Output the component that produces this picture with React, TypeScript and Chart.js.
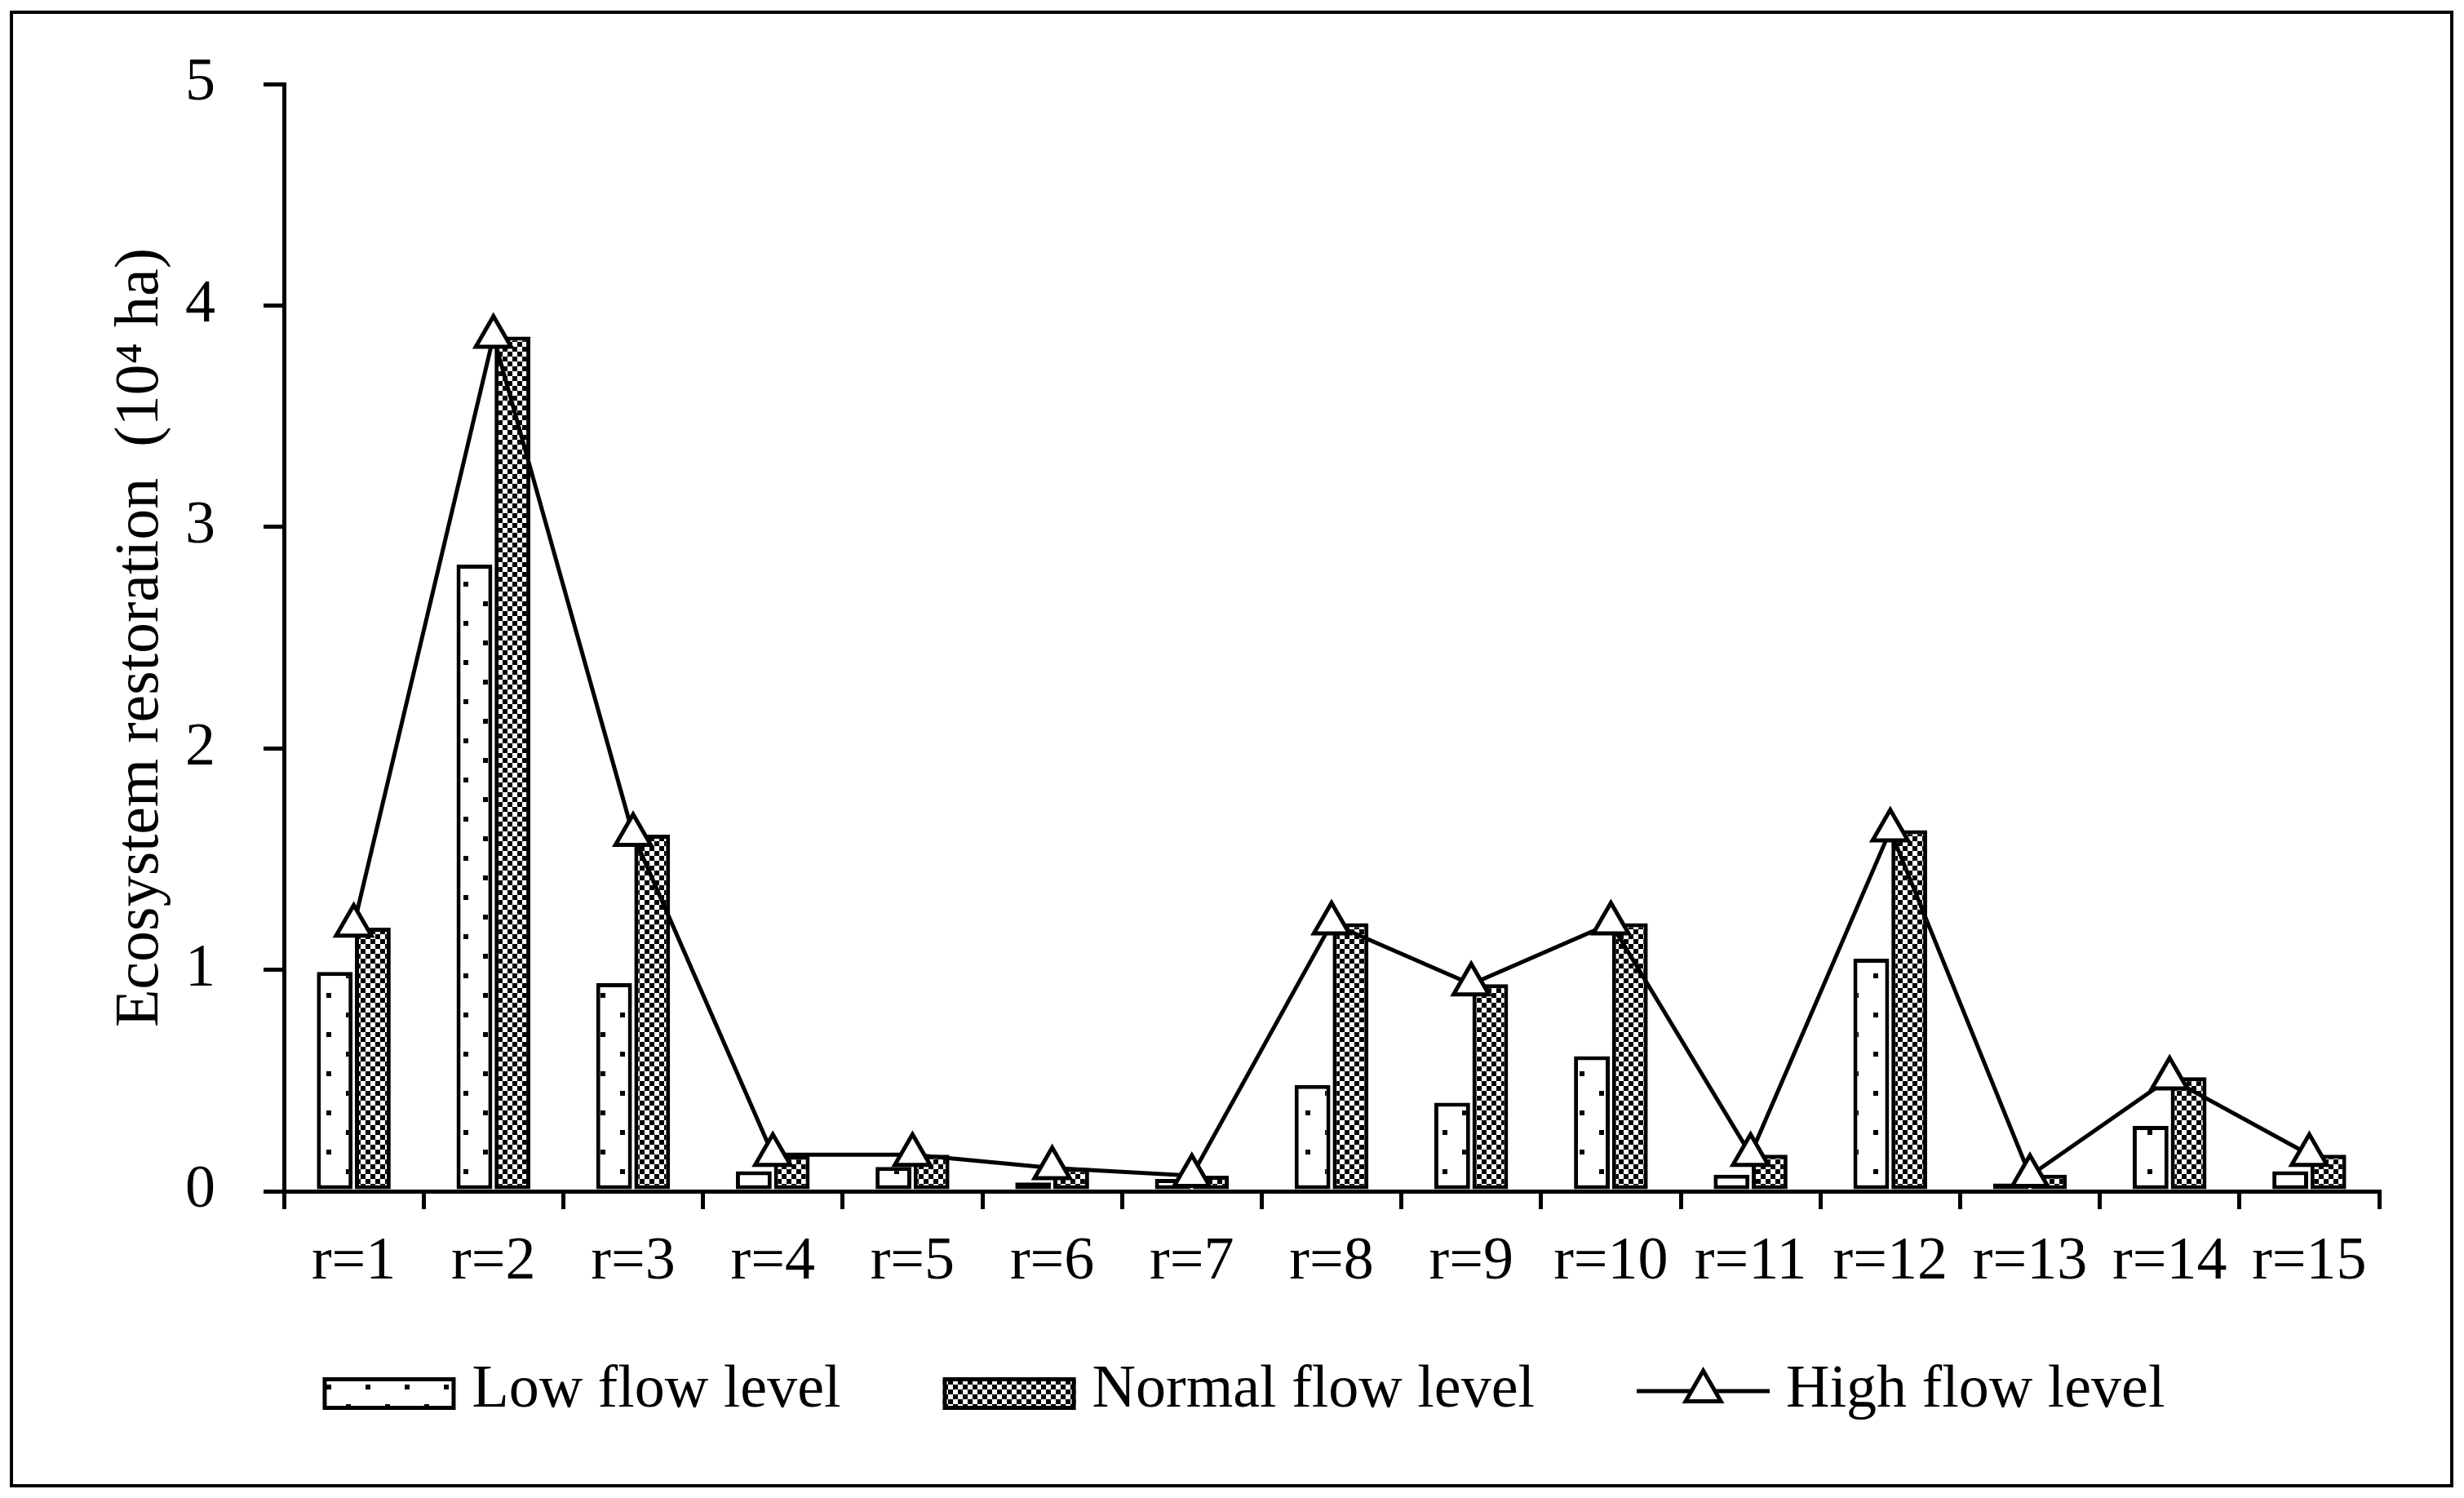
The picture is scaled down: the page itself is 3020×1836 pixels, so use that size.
import React, { useEffect, useRef } from 'react';
import { Chart, registerables } from 'chart.js';

// Register Chart.js components
Chart.register(...registerables);

const FONT = '"Liberation Serif", "Times New Roman", serif';

const categories = ['r=1', 'r=2', 'r=3', 'r=4', 'r=5', 'r=6', 'r=7', 'r=8', 'r=9', 'r=10', 'r=11', 'r=12', 'r=13', 'r=14', 'r=15'];
const lowFlow = [0.99, 2.83, 0.94, 0.09, 0.11, 0.04, 0.055, 0.48, 0.4, 0.61, 0.075, 1.05, 0.035, 0.295, 0.09];
const normalFlow = [1.19, 3.86, 1.61, 0.16, 0.165, 0.105, 0.07, 1.21, 0.935, 1.21, 0.165, 1.63, 0.075, 0.515, 0.165];
const highFlow = [1.2, 3.86, 1.61, 0.165, 0.165, 0.105, 0.07, 1.21, 0.935, 1.21, 0.165, 1.63, 0.07, 0.51, 0.165];
const yTicks = [0, 1, 2, 3, 4, 5];

// sparse dots, like the Excel "dotted" fill
function makeLowPattern(): CanvasPattern | string {
  const c = document.createElement('canvas');
  c.width = 48;
  c.height = 48;
  const g = c.getContext('2d');
  if (!g) return '#fff';
  g.fillStyle = '#fff';
  g.fillRect(0, 0, 48, 48);
  g.fillStyle = '#000';
  g.fillRect(0, 0, 6, 6);
  g.fillRect(24, 24, 6, 6);
  return g.createPattern(c, 'repeat') || '#fff';
}

// small checker board
function makeNormalPattern(): CanvasPattern | string {
  const c = document.createElement('canvas');
  c.width = 12;
  c.height = 12;
  const g = c.getContext('2d');
  if (!g) return '#777';
  g.fillStyle = '#fff';
  g.fillRect(0, 0, 12, 12);
  g.fillStyle = '#000';
  g.fillRect(0, 0, 6, 6);
  g.fillRect(6, 6, 6, 6);
  return g.createPattern(c, 'repeat') || '#777';
}

function drawTriangle(ctx: CanvasRenderingContext2D, cx: number, cy: number, r: number) {
  const h = (r * Math.sqrt(3)) / 2;
  ctx.beginPath();
  ctx.moveTo(cx, cy - r);
  ctx.lineTo(cx + h, cy + r / 2);
  ctx.lineTo(cx - h, cy + r / 2);
  ctx.closePath();
  ctx.fillStyle = '#fff';
  ctx.fill();
  ctx.stroke();
}

// Excel-like legend under the plot, the line key shows line + marker
const legendPlugin = {
  id: 'flowLegend',
  afterDraw(chart: any) {
    const { ctx } = chart;
    const keyW = 163;
    const keyH = 40;
    const textGap = 20;
    const itemGap = 125;
    const y = chart.height - 114;
    const sets = chart.data.datasets;

    ctx.save();
    ctx.font = `74px ${FONT}`;
    ctx.textBaseline = 'middle';
    ctx.textAlign = 'left';
    const widths = sets.map((d: any) => ctx.measureText(String(d.label)).width);
    const total = widths.reduce((s: number, w: number) => s + keyW + textGap + w, 0) + itemGap * (sets.length - 1);
    let x = chart.width / 2 - total / 2 + 15;

    sets.forEach((d: any, i: number) => {
      ctx.strokeStyle = '#000';
      ctx.lineWidth = 5;
      ctx.lineJoin = 'miter';
      if (d.type === 'line') {
        ctx.beginPath();
        ctx.moveTo(x, y);
        ctx.lineTo(x + keyW, y);
        ctx.stroke();
        drawTriangle(ctx, x + keyW / 2, y, 25);
      } else {
        ctx.fillStyle = d.backgroundColor;
        ctx.fillRect(x, y - keyH / 2 + 3, keyW, keyH);
        ctx.strokeRect(x + 2.5, y - keyH / 2 + 5.5, keyW - 5, keyH - 5);
      }
      ctx.fillStyle = '#000';
      ctx.fillText(String(d.label), x + keyW + textGap, y);
      x += keyW + textGap + widths[i] + itemGap;
    });
    ctx.restore();
  },
};

export default function App() {
  const chartRef = useRef<HTMLCanvasElement | null>(null);

  useEffect(() => {
    if (!chartRef.current) return;
    const lowFill = makeLowPattern();
    const normalFill = makeNormalPattern();

    const chart = new Chart(chartRef.current, {
      type: 'bar',
      data: {
        labels: categories,
        datasets: [
          {
            label: 'Low flow level',
            data: lowFlow,
            backgroundColor: lowFill as any,
            borderColor: '#000',
            borderWidth: 5,
            borderSkipped: false,
            categoryPercentage: 0.545,
            barPercentage: 0.94,
            order: 1,
          },
          {
            label: 'Normal flow level',
            data: normalFlow,
            backgroundColor: normalFill as any,
            borderColor: '#000',
            borderWidth: 5,
            borderSkipped: false,
            categoryPercentage: 0.545,
            barPercentage: 0.94,
            order: 1,
          },
          {
            type: 'line',
            label: 'High flow level',
            data: highFlow,
            borderColor: '#000',
            borderWidth: 5,
            tension: 0,
            pointStyle: 'triangle',
            pointRadius: 25,
            pointBackgroundColor: '#fff',
            pointBorderColor: '#000',
            pointBorderWidth: 5,
            order: 0,
          } as any,
        ],
      },
      options: {
        responsive: true,
        maintainAspectRatio: false,
        animation: false,
        events: [],
        layout: { padding: { top: 86, right: 87, bottom: 209, left: 0 } },
        plugins: {
          legend: { display: false },
          tooltip: { enabled: false },
        },
        scales: {
          x: {
            afterFit: (scale: any) => {
              scale.height = 150;
            },
            border: { display: true, color: '#000', width: 5 },
            grid: { drawOnChartArea: false, drawTicks: true, tickLength: 22, color: '#000', lineWidth: 5 },
            ticks: {
              color: '#000',
              font: { family: FONT, size: 74 },
              padding: 21,
              autoSkip: false,
              maxRotation: 0,
            },
          },
          y: {
            min: yTicks[0],
            max: yTicks[yTicks.length - 1],
            afterBuildTicks: (scale: any) => {
              scale.ticks = yTicks.map((v) => ({ value: v }));
            },
            afterFit: (scale: any) => {
              scale.width = 332;
              // the label padding is only horizontal here
              scale.paddingTop = 0;
              scale.paddingBottom = 0;
            },
            border: { display: true, color: '#000', width: 5 },
            grid: { drawOnChartArea: false, drawTicks: true, tickLength: 25, color: '#000', lineWidth: 5 },
            ticks: {
              color: '#000',
              font: { family: FONT, size: 74 },
              padding: 59,
            },
            title: {
              display: true,
              text: 'Ecosystem restoration  (10\u2074 ha)',
              color: '#000',
              font: { family: FONT, size: 76 },
              padding: { top: 111, bottom: 0 },
            },
          },
        },
      },
      plugins: [legendPlugin],
    });

    // Cleanup on unmount
    return () => {
      chart.destroy();
    };
  }, []);

  return (
    <div
      style={{
        position: 'absolute',
        left: 12,
        top: 13,
        width: 2995,
        height: 1810,
        border: '4px solid #000',
        boxSizing: 'border-box',
        background: '#fff',
      }}
    >
      <div style={{ position: 'relative', width: 2987, height: 1802 }}>
        <canvas ref={chartRef} />
      </div>
    </div>
  );
}
